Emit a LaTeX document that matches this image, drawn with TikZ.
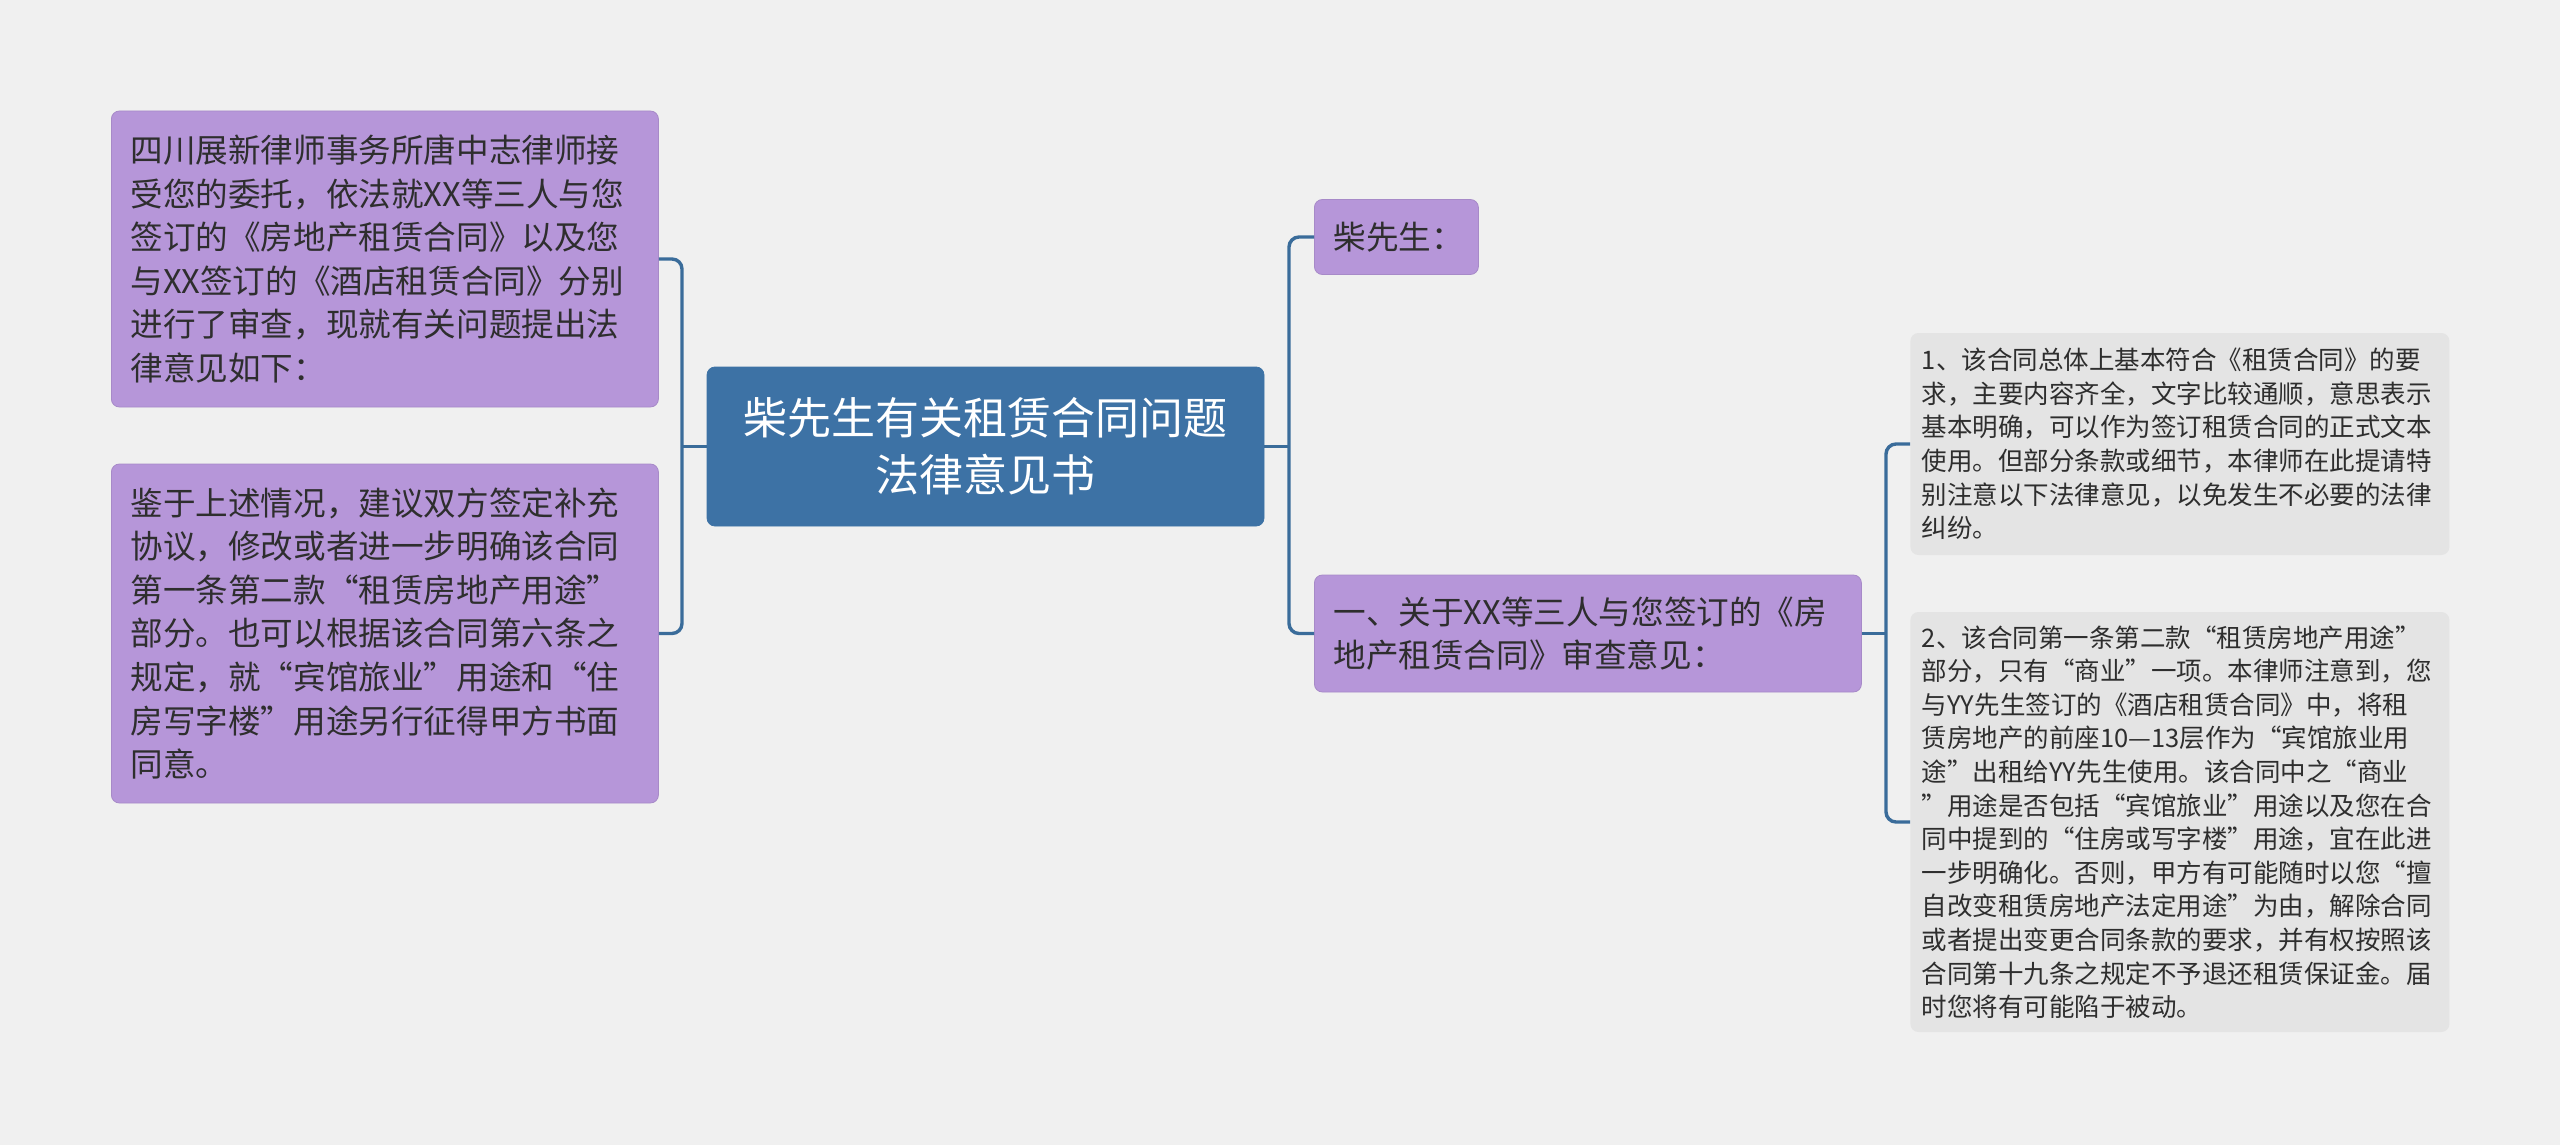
\documentclass[tikz,border=0pt]{standalone}
\usepackage{fontspec}
\setmainfont{Noto Sans CJK SC}
\usetikzlibrary{positioning}
\definecolor{bgcol}{HTML}{F0F0F0}
\definecolor{rootcol}{HTML}{3D72A5}
\definecolor{linecol}{HTML}{3A6C9A}
\definecolor{topiccol}{HTML}{B696D9}
\definecolor{notecol}{HTML}{E4E4E4}
\definecolor{txtcol}{HTML}{2E2E2E}

\begin{document}
\begin{tikzpicture}[x=0.5pt, y=-0.5pt,
  root/.style={draw=rootcol, fill=rootcol, rounded corners=4pt, text=white, align=center, inner sep=0pt, minimum width=278.5pt, minimum height=79.5pt, font=\fontsize{22}{28.5}\selectfont},
  topic/.style={draw=topiccol!92!black, line width=0.4pt, fill=topiccol, rounded corners=4pt, text=txtcol, align=left, inner xsep=9.5pt, inner ysep=0pt, text width=254.5pt, font=\fontsize{16.3}{21.8}\selectfont},
  note/.style={fill=notecol, rounded corners=4pt, text=txtcol, align=left, inner xsep=5.75pt, inner ysep=0pt, text width=258pt, font=\fontsize{12.75}{16.8}\selectfont},
  link/.style={draw=linecol, line width=1.7pt, rounded corners=5pt}]
  \fill[bgcol] (0,0) rectangle (2560,1145);
  \useasboundingbox (0,0) rectangle (2560,1145);

  \node[root] (letter) at (985.5,446.5) {柴先生有关租赁合同问题\\法律意见书};

  \node[topic, anchor=west, minimum height=148pt] (intro) at (111,259) {四川展新律师事务所唐中志律师接\\受您的委托，依法就XX等三人与您\\签订的《房地产租赁合同》以及您\\与XX签订的《酒店租赁合同》分别\\进行了审查，现就有关问题提出法\\律意见如下：};
  \node[topic, anchor=west, minimum height=169.5pt] (advice) at (111,633.5) {鉴于上述情况，建议双方签定补充\\协议，修改或者进一步明确该合同\\第一条第二款“租赁房地产用途”\\部分。也可以根据该合同第六条之\\规定，就“宾馆旅业”用途和“住\\房写字楼”用途另行征得甲方书面\\同意。};

  \node[topic, anchor=west, text width=63pt, minimum height=37.5pt] (greeting) at (1314,237) {柴先生：};
  \node[topic, anchor=west, minimum height=58.5pt] (review) at (1314,633.5) {一、关于XX等三人与您签订的《房\\地产租赁合同》审查意见：};

  \node[note, anchor=west, minimum height=111pt] (point1) at (1910,444) {1、该合同总体上基本符合《租赁合同》的要\\求，主要内容齐全，文字比较通顺，意思表示\\基本明确，可以作为签订租赁合同的正式文本\\使用。但部分条款或细节，本律师在此提请特\\别注意以下法律意见，以免发生不必要的法律\\纠纷。};
  \node[note, anchor=west, minimum height=210pt] (point2) at (1910,822) {2、该合同第一条第二款“租赁房地产用途”\\部分，只有“商业”一项。本律师注意到，您\\与YY先生签订的《酒店租赁合同》中，将租\\赁房地产的前座10—13层作为“宾馆旅业用\\途”出租给YY先生使用。该合同中之“商业\\”用途是否包括“宾馆旅业”用途以及您在合\\同中提到的“住房或写字楼”用途，宜在此进\\一步明确化。否则，甲方有可能随时以您“擅\\自改变租赁房地产法定用途”为由，解除合同\\或者提出变更合同条款的要求，并有权按照该\\合同第十九条之规定不予退还租赁保证金。届\\时您将有可能陷于被动。};

  \coordinate (lfork) at (682,446.5);
  \coordinate (rfork) at (1289,446.5);
  \coordinate (dfork) at (1886,633.5);

  \draw[link] (letter.west) -- (lfork);
  \draw[link] (intro.east) -| (lfork) |- (advice.east);
  \draw[link] (letter.east) -- (rfork);
  \draw[link] (greeting.west) -| (rfork) |- (review.west);
  \draw[link] (review.east) -- (dfork);
  \draw[link] (point1.west) -| (dfork) |- (point2.west);
\end{tikzpicture}
\end{document}
